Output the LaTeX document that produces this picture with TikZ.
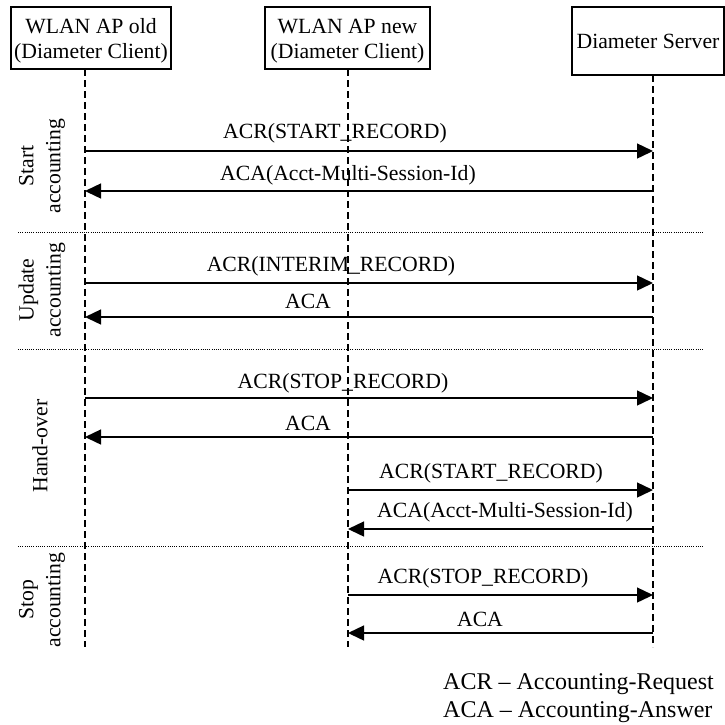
\documentclass[tikz,border=0pt]{standalone}
\usepackage{fontspec}
\setmainfont{Liberation Serif}
\usetikzlibrary{arrows.meta}
\newcommand{\twolines}[2]{\raisebox{-3pt}[\height][\depth]{\begin{tabular}{@{}c@{}}#1\\#2\end{tabular}}}
\begin{document}
\begin{tikzpicture}[x=1pt,y=-1pt,
  every node/.style={font=\fontsize{21.7}{25}\selectfont, inner sep=0pt},
  entity/.style={draw, line width=1.1pt, align=center},
  lifeline/.style={line width=1.2pt, dash pattern=on 7pt off 4pt},
  separator/.style={line width=0.9pt, dash pattern=on 1pt off 1.2pt},
  msg/.style={line width=1.4pt, -{Triangle[length=16pt,width=15pt]}},
  phase/.style={rotate=90, align=center, font=\fontsize{21.7}{27}\selectfont},
  legend/.style={anchor=west, font=\fontsize{24}{28}\selectfont}]
\useasboundingbox (0,0) rectangle (725,724);

% participants
\node[entity, minimum width=160pt, minimum height=62pt] (old) at (91,38)
  {\twolines{WLAN AP old}{(Diameter Client)}};
\node[entity, minimum width=165pt, minimum height=62pt] (new) at (347.5,38)
  {\twolines{WLAN AP new}{(Diameter Client)}};
\node[entity, minimum width=152pt, minimum height=68pt] (srv) at (648,41)
  {Diameter Server};

% lifelines
\coordinate (oldT) at (85,69);  \coordinate (oldB) at (85,647);
\coordinate (newT) at (348,69); \coordinate (newB) at (348,647);
\coordinate (srvT) at (653,75); \coordinate (srvB) at (653,647);
\draw[lifeline] (oldT) -- (oldB);
\draw[lifeline] (newT) -- (newB);
\draw[lifeline] (srvT) -- (srvB);

% phase separators
\foreach \y/\n in {232/s1,349/s2,546/s3}{
  \coordinate (\n a) at (18,\y); \coordinate (\n b) at (703,\y);
  \draw[separator] (\n a) -- (\n b);
}

% phase labels
\node[phase] (p1) at (42,166) {Start\\accounting};
\node[phase] (p2) at (42,290) {Update\\accounting};
\node[phase] (p3) at (40,446) {Hand-over};
\node[phase] (p4) at (42,600) {Stop\\accounting};

% messages: start accounting
\coordinate (a1) at (85,151);  \coordinate (b1) at (653,151);
\draw[msg] (a1) -- (b1);
\node (l1) at (335,133) {ACR(START\_RECORD)};
\coordinate (a2) at (653,191); \coordinate (b2) at (85,191);
\draw[msg] (a2) -- (b2);
\node (l2) at (348,175) {ACA(Acct-Multi-Session-Id)};

% update accounting
\coordinate (a3) at (85,283);  \coordinate (b3) at (653,283);
\draw[msg] (a3) -- (b3);
\node (l3) at (331,266) {ACR(INTERIM\_RECORD)};
\coordinate (a4) at (653,317); \coordinate (b4) at (85,317);
\draw[msg] (a4) -- (b4);
\node (l4) at (308,301) {ACA};

% hand-over
\coordinate (a5) at (85,398);  \coordinate (b5) at (653,398);
\draw[msg] (a5) -- (b5);
\node (l5) at (343,383) {ACR(STOP\_RECORD)};
\coordinate (a6) at (653,437); \coordinate (b6) at (85,437);
\draw[msg] (a6) -- (b6);
\node (l6) at (308,423) {ACA};
\coordinate (a7) at (348,490); \coordinate (b7) at (653,490);
\draw[msg] (a7) -- (b7);
\node (l7) at (491,473) {ACR(START\_RECORD)};
\coordinate (a8) at (653,529); \coordinate (b8) at (348,529);
\draw[msg] (a8) -- (b8);
\node (l8) at (505,512) {ACA(Acct-Multi-Session-Id)};

% stop accounting
\coordinate (a9) at (348,595);  \coordinate (b9) at (653,595);
\draw[msg] (a9) -- (b9);
\node (l9) at (483,578) {ACR(STOP\_RECORD)};
\coordinate (a10) at (653,633); \coordinate (b10) at (348,633);
\draw[msg] (a10) -- (b10);
\node (l10) at (480,619) {ACA};

% legend
\node[legend] (k1) at (443,684) {ACR -- Accounting-Request};
\node[legend] (k2) at (443,712) {ACA -- Accounting-Answer};
\end{tikzpicture}
\end{document}
